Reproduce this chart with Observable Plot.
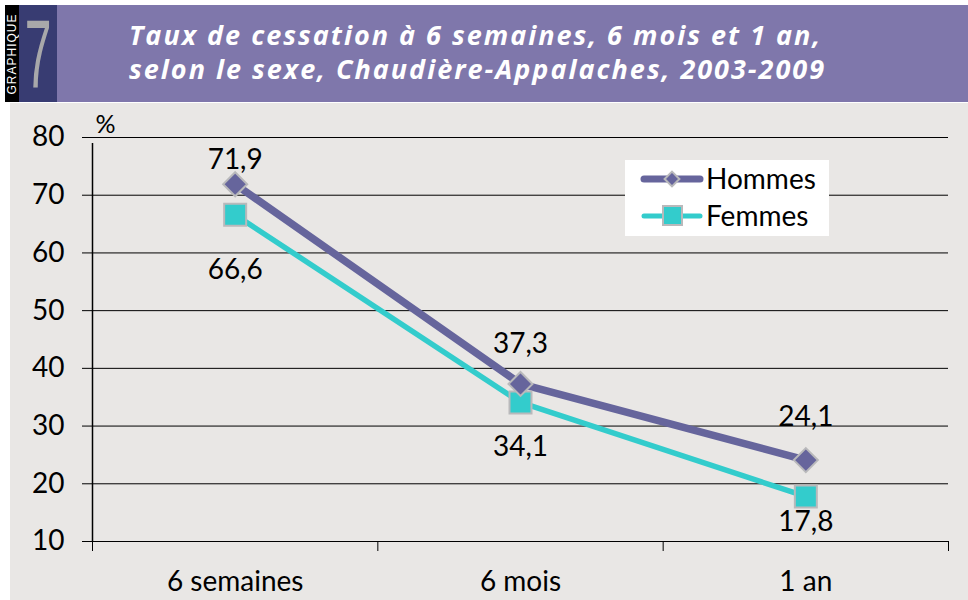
<!DOCTYPE html>
<html><head><meta charset="utf-8">
<script src="https://cdn.jsdelivr.net/npm/d3@7"></script>
<script src="https://cdn.jsdelivr.net/npm/@observablehq/plot@0.6"></script>
<style>
body{margin:0;background:#fff;font-family:Lato,"Open Sans",sans-serif;}
#wrap{position:relative;width:968px;height:600px;overflow:hidden;}
#hdr{position:absolute;left:5px;top:5px;width:963px;height:97px;}
#strip{position:absolute;left:0;top:0;width:14px;height:97px;background:#000;}
#strip span{position:absolute;left:50%;top:50%;transform:translate(-50%,-50%) rotate(-90deg);color:#fff;font:12px "Liberation Sans",Arial,sans-serif;letter-spacing:1px;white-space:nowrap;}
#num{position:absolute;left:14px;top:0;width:38px;height:97px;background:#383c72;overflow:visible;}
#num span{position:absolute;left:50%;top:50%;transform:translate(-50%,-50%) scaleX(0.5);color:#a8a8aa;font:400 96px "Liberation Sans",sans-serif;line-height:0.9;}
#band{position:absolute;left:52px;top:0;right:0;height:97px;background:#7f77ab;}
.tl{position:absolute;left:72px;height:34px;color:#fff;font:italic 700 27px "Open Sans",sans-serif;letter-spacing:2px;line-height:34px;white-space:nowrap;}
#chart{position:absolute;left:10px;top:103px;width:958px;height:497px;background:#e9e7e5;}
#legend{position:absolute;left:625px;top:160px;width:204px;height:76px;background:#fff;}
</style></head>
<body><div id="wrap">
<div id="hdr"><div id="strip"><span>GRAPHIQUE</span></div><div id="num"><span>7</span></div><div id="band"><div class="tl" style="top:13px">Taux de cessation à 6 semaines, 6 mois et 1 an,</div><div class="tl" style="top:47px">selon le sexe, Chaudière-Appalaches, 2003-2009</div></div></div>
<div id="chart"></div>
<div id="legend"></div>
</div>
<script>
const categories = ["6 semaines", "6 mois", "1 an"];
const hommes = [71.9, 37.3, 24.1];
const femmes = [66.6, 34.1, 17.8];
const yTicks = [10, 20, 30, 40, 50, 60, 70, 80];
const seriesNames = ["Hommes", "Femmes"];

const colH = "#66659c", colF = "#33cccc", edge = "#b9b9bb";
const fmt = v => v.toFixed(1).replace(".", ",");
const dyH = [-24, -40, -43], dyF = [55, 45, 26];
const FS = 28;

const dataH = hommes.map((v, i) => ({i: i + 0.5, v}));
const dataF = femmes.map((v, i) => ({i: i + 0.5, v}));

const marks = [
  Plot.gridY(yTicks, {stroke: "#000", strokeOpacity: 1, strokeWidth: 1}),
  Plot.ruleX([0], {stroke: "#000", strokeWidth: 1.5, y1: 10, y2: 80, insetBottom: -6}),
  Plot.axisY(yTicks, {tickSize: 10, tickPadding: 18, fontSize: FS, label: null, tickFormat: d => d}),
  Plot.axisX([0, 1, 2, 3], {tickSize: 10, tickFormat: () => "", label: null}),
  Plot.axisX([0.5, 1.5, 2.5], {tickSize: 0, tickPadding: 30, fontSize: FS, label: null, tickFormat: d => categories[Math.floor(d)]}),
  Plot.text(["%"], {frameAnchor: "top-left", dx: 3, dy: -22, fontSize: 25, fill: "#000"}),
  Plot.line(dataF, {x: "i", y: "v", stroke: colF, strokeWidth: 5.5}),
  Plot.line(dataH, {x: "i", y: "v", stroke: colH, strokeWidth: 7.5}),
  Plot.dot(dataF, {x: "i", y: "v", symbol: "square2", r: 14, fill: colF, stroke: edge, strokeWidth: 2}),
  Plot.dot(dataH, {x: "i", y: "v", symbol: "diamond2", r: 10.8, fill: colH, stroke: edge, strokeWidth: 2}),
];
dataH.forEach((d, k) => marks.push(Plot.text([d], {x: "i", y: "v", text: d => fmt(d.v), dy: dyH[k], fontSize: FS, fill: "#000"})));
dataF.forEach((d, k) => marks.push(Plot.text([d], {x: "i", y: "v", text: d => fmt(d.v), dy: dyF[k], fontSize: FS, fill: "#000"})));

const chart = Plot.plot({
  width: 958, height: 497,
  marginLeft: 82, marginRight: 20, marginTop: 34, marginBottom: 59,
  style: {background: "transparent", fontFamily: "Lato, 'Open Sans', sans-serif", color: "#000", overflow: "visible"},
  x: {type: "linear", domain: [0, 3]},
  y: {domain: [10, 80]},
  marks
});
document.getElementById("chart").appendChild(chart);

// legend
const lg = d3.select("#legend").append("svg").attr("width", 204).attr("height", 76);
seriesNames.forEach((name, k) => {
  const y = k === 0 ? 19 : 56;
  const g = lg.append("g");
  g.append("line").attr("x1", 19).attr("x2", 75).attr("y1", y).attr("y2", y)
    .attr("stroke", k === 0 ? colH : colF).attr("stroke-width", k === 0 ? 7 : 5).attr("stroke-linecap", "round");
  if (k === 0) {
    g.append("path").attr("d", d3.symbol(d3.symbolDiamond2, 140)()).attr("transform", `translate(47,${y})`)
      .attr("fill", colH).attr("stroke", edge).attr("stroke-width", 2);
  } else {
    g.append("rect").attr("x", 38).attr("y", y - 10).attr("width", 19).attr("height", 19)
      .attr("fill", colF).attr("stroke", edge).attr("stroke-width", 2);
  }
  g.append("text").attr("x", 81).attr("y", y).attr("dy", "0.36em").attr("font-size", FS)
    .attr("font-family", "Lato, 'Open Sans', sans-serif").text(name);
});
</script>
</body></html>
